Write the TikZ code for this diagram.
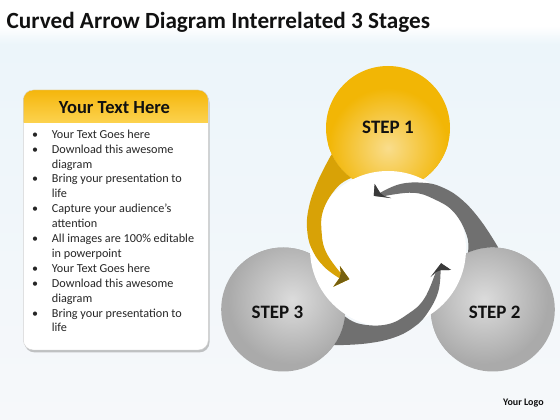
\documentclass[tikz,border=0pt]{standalone}
\usepackage{fontspec}
\setmainfont{Carlito}
\usetikzlibrary{shadows}
\definecolor{bgA}{HTML}{ECF5FA}
\definecolor{bgB}{HTML}{F6F8FA}
\definecolor{titlecol}{HTML}{111111}
\definecolor{txtcol}{HTML}{262626}
\definecolor{hdrtop}{HTML}{F5B60C}
\definecolor{hdrbot}{HTML}{FCD24E}
\definecolor{soneout}{HTML}{F2B605}
\definecolor{sonein}{HTML}{F9DD8C}
\definecolor{grayout}{HTML}{AAAAAA}
\definecolor{grayin}{HTML}{DCDCDC}
\definecolor{yband}{HTML}{D8A206}
\definecolor{yhead}{HTML}{76600F}
\definecolor{gband}{HTML}{707070}
\definecolor{ghead}{HTML}{3A3A3A}
\newcommand\arrowoutline[2]{%
 plot[smooth, tension=0.7] coordinates {(121:110) (137:97) (154:88.7) (169:82) (182:75) ({196+0.5*#1}:66) ({211+#1}:56.7)}
 -- ({214.6+#1}:66.4) -- ({218+#1}:#2) -- ({199.5+#1}:51) -- ({207+#1}:53)
 -- plot[smooth, tension=0.7] coordinates {({207+#1}:53) ({184+0.3*#1}:61.5) (167:68) (149:75.5) (129.6:80) (117.4:80)}
 arc[start angle=233.6, end angle=205.2, radius=62] -- cycle}
\newcommand\arrowtip[2]{%
 ({211+#1}:56.7) -- ({214.6+#1}:66.4) -- ({218+#1}:#2) -- ({199.5+#1}:51) -- ({207+#1}:53) -- cycle}
\tikzset{
  steplabel/.style={font=\bfseries\fontsize{19}{21}\selectfont, text=titlecol, inner sep=0pt, anchor=base},
  bullettext/.style={font=\fontsize{12.2}{14}\selectfont, text=txtcol, inner sep=0pt, anchor=base west},
  bulletdot/.style={font=\fontsize{12}{14}\selectfont, text=txtcol, inner sep=0pt, anchor=base}
}
\begin{document}
\begin{tikzpicture}[x=1pt,y=1pt]
\useasboundingbox (0,0) rectangle (560,420);
% background
\fill[white] (0,0) rectangle (560,420);
\shade[top color=bgA, bottom color=bgB] (0,0) rectangle (560,376);
\shade[top color=white, bottom color=bgA] (0,376) rectangle (560,394);
% title
\node[anchor=base west, inner sep=0pt, font=\bfseries\fontsize{23.2}{27}\selectfont, text=titlecol] (title) at (6.5,391.7) {Curved Arrow Diagram Interrelated 3 Stages};
% text box
\path[fill=white, rounded corners=10, drop shadow={shadow xshift=1.2pt, shadow yshift=-2.4pt, opacity=0.45}] (23.3,70) rectangle (208.3,330);
\begin{scope}
  \clip[rounded corners=10] (23.3,70) rectangle (208.3,330);
  \shade[top color=hdrtop, bottom color=hdrbot] (23.3,297.7) rectangle (208.3,330);
\end{scope}
\draw[gray!35, line width=0.4pt, rounded corners=10] (23.3,70) rectangle (208.3,330);
\node[anchor=base, inner sep=0pt, font=\bfseries\fontsize{18.5}{21}\selectfont, text=titlecol] (head) at (114.5,306.7) {Your Text Here};
% bullet lines
\node[bulletdot] (b1) at (35,281.7) {•};
\node[bullettext] (l1) at (51.7,281.7) {Your Text Goes here};
\node[bulletdot] (b2) at (35,266.8) {•};
\node[bullettext] (l2) at (51.7,266.8) {Download this awesome};
\node[bullettext] (l3) at (51.7,251.9) {diagram};
\node[bulletdot] (b3) at (35,237.0) {•};
\node[bullettext] (l4) at (51.7,237.0) {Bring your presentation to};
\node[bullettext] (l5) at (51.7,222.1) {life};
\node[bulletdot] (b4) at (35,207.2) {•};
\node[bullettext] (l6) at (51.7,207.2) {Capture your audience’s};
\node[bullettext] (l7) at (51.7,192.3) {attention};
\node[bulletdot] (b5) at (35,177.4) {•};
\node[bullettext] (l8) at (51.7,177.4) {All images are 100\% editable};
\node[bullettext] (l9) at (51.7,162.5) {in powerpoint};
\node[bulletdot] (b6) at (35,147.6) {•};
\node[bullettext] (l10) at (51.7,147.6) {Your Text Goes here};
\node[bulletdot] (b7) at (35,132.7) {•};
\node[bullettext] (l11) at (51.7,132.7) {Download this awesome};
\node[bullettext] (l12) at (51.7,117.8) {diagram};
\node[bulletdot] (b8) at (35,102.9) {•};
\node[bullettext] (l13) at (51.7,102.9) {Bring your presentation to};
\node[bullettext] (l14) at (51.7,88.0) {life};
% step circles
\coordinate (C) at (388,171);
\coordinate (s1) at (388,292);
\coordinate (s2) at (492.79,110.5);
\coordinate (s3) at (283.21,110.5);
\fill[soneout] (s1) circle (62);
\begin{scope}
  \clip (s1) circle (62);
  \shade[inner color=sonein, outer color=soneout] (388,272) circle (60);
\end{scope}
\fill[grayout] (s2) circle (62);
\begin{scope}
  \clip (s2) circle (62);
  \shade[inner color=grayin, outer color=grayout] (484,120) circle (64);
\end{scope}
\fill[grayout] (s3) circle (62);
\begin{scope}
  \clip (s3) circle (62);
  \shade[inner color=grayin, outer color=grayout] (292,120) circle (64);
\end{scope}
% white centre
\fill[white] (C) circle (78);
% arrows
\begin{scope}[shift={(388,171)}]
  \fill[yband] \arrowoutline{0}{49};
  \fill[yhead] \arrowtip{0}{49};
\end{scope}
\begin{scope}[shift={(388,171)}, rotate=-120]
  \fill[gband] \arrowoutline{7}{55};
  \fill[ghead] \arrowtip{7}{55};
\end{scope}
\begin{scope}[shift={(388,171)}, rotate=120]
  \fill[gband] \arrowoutline{7}{55};
  \fill[ghead] \arrowtip{7}{55};
\end{scope}
% labels
\node[steplabel] (t1) at (388,286.7) {STEP 1};
\node[steplabel] (t2) at (494.7,101.7) {STEP 2};
\node[steplabel] (t3) at (277.5,101.7) {STEP 3};
\node[anchor=base west, inner sep=0pt, font=\bfseries\fontsize{10}{11}\selectfont, text=titlecol] (logo) at (503,14.3) {Your Logo};
\end{tikzpicture}
\end{document}
